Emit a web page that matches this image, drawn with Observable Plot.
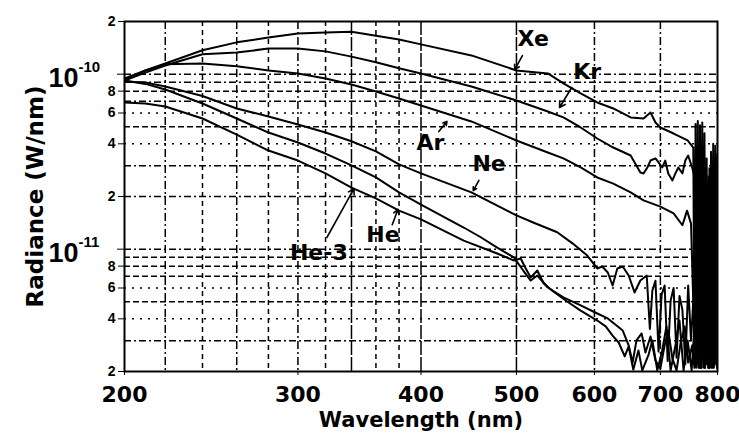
<!DOCTYPE html>
<html>
<head>
<meta charset="utf-8">
<script src="https://cdn.jsdelivr.net/npm/d3@7"></script>
<script src="https://cdn.jsdelivr.net/npm/@observablehq/plot@0.6"></script>
<style>
  body { margin: 0; background: #fff; }
</style>
</head>
<body>
<div id="chart"></div>
<script>
// Spectral radiance of noble-gas lamps, [wavelength (nm), radiance (W/nm)]
const xe = [[200,9.20e-11],[210,1.05e-10],[220,1.15e-10],[240,1.37e-10],[260,1.52e-10],[280,1.62e-10],[300,1.71e-10],[320,1.73e-10],[340,1.75e-10],[360,1.66e-10],[380,1.58e-10],[400,1.48e-10],[450,1.28e-10],[500,1.05e-10],[538,1.01e-10],[558,8.85e-11],[581,7.76e-11],[604,6.89e-11],[627,6.37e-11],[653,5.66e-11],[673,5.58e-11],[684,6.04e-11],[692,5.30e-11],[700,4.96e-11],[722,4.58e-11],[746,4.18e-11],[756,3.81e-11],
  [758,2.4e-12],[760,5.2e-11],[762,2.2e-12],[764,5.4e-11],[766,2.6e-12],[768,5.1e-11],[770,2.1e-12],[772,5.3e-11],[774,3.0e-12],[776,4.6e-11],[778,2.2e-12],[780,3.3e-11],[782,2.5e-12],[784,2.6e-11],[786,2.1e-12],[788,3.6e-11],[790,2.3e-12],[792,4.0e-11],[794,2.2e-12],[796,3.9e-11],[798,2.4e-12],[800,3.5e-11]];

const kr = [[200,9.20e-11],[210,1.02e-10],[220,1.12e-10],[240,1.30e-10],[260,1.33e-10],[280,1.40e-10],[300,1.40e-10],[320,1.35e-10],[340,1.26e-10],[360,1.17e-10],[380,1.08e-10],[400,1.01e-10],[450,8.50e-11],[500,7.07e-11],[538,6.12e-11],[558,5.66e-11],[581,4.96e-11],[604,4.29e-11],[627,3.81e-11],[653,3.43e-11],[660,3.09e-11],[668,2.74e-11],[673,2.71e-11],[679,2.93e-11],[684,3.21e-11],[692,3.30e-11],[697,3.13e-11],[703,2.93e-11],[708,3.21e-11],[713,2.71e-11],[720,2.47e-11],[725,2.71e-11],[730,2.93e-11],[737,2.71e-11],[742,3.21e-11],[747,3.43e-11],[754,2.93e-11],[760,2.47e-11],
  [763,2.2e-12],[765,3.0e-11],[767,2.3e-12],[769,2.8e-11],[771,2.1e-12],[773,3.2e-11],[775,2.5e-12],[777,2.6e-11],[779,2.2e-12],[781,2.4e-11],[783,2.1e-12],[785,2.9e-11],[787,2.4e-12],[789,2.7e-11],[791,2.2e-12],[793,3.1e-11],[795,2.3e-12],[797,2.5e-11],[799,2.1e-12]];

const ar = [[200,9.45e-11],[210,1.05e-10],[220,1.14e-10],[240,1.15e-10],[260,1.11e-10],[280,1.05e-10],[300,1.01e-10],[320,9.45e-11],[340,8.73e-11],[360,7.96e-11],[380,7.26e-11],[400,6.62e-11],[450,5.37e-11],[500,4.18e-11],[538,3.57e-11],[558,3.30e-11],[581,2.93e-11],[604,2.57e-11],[627,2.37e-11],[653,2.11e-11],[673,1.90e-11],[700,1.75e-11],[722,1.60e-11],[737,1.37e-11],[745,1.66e-11],[752,1.40e-11],
  [759,2.2e-12],[762,1.5e-11],[765,2.1e-12],[768,1.7e-11],[771,2.4e-12],[774,1.4e-11],[777,2.1e-12],[780,1.6e-11],[783,2.3e-12],[786,1.3e-11],[789,2.1e-12],[792,1.5e-11],[795,2.2e-12],[798,1.2e-11]];

const ne = [[200,9.08e-11],[210,8.96e-11],[220,8.50e-11],[240,7.50e-11],[260,6.37e-11],[280,5.73e-11],[300,5.16e-11],[320,4.64e-11],[340,4.14e-11],[360,3.62e-11],[380,3.05e-11],[400,2.71e-11],[450,2.11e-11],[500,1.56e-11],[520,1.42e-11],[550,1.25e-11],[570,1.08e-11],[590,9.20e-12],[604,7.76e-12],[611,7.96e-12],[619,7.36e-12],[626,6.20e-12],[633,7.76e-12],[641,7.96e-12],[650,7.07e-12],[659,5.66e-12],[668,6.62e-12],[678,7.07e-12],[683,3.5e-12],[687,5.81e-12],[692,6.6e-12],[697,2.6e-12],[702,5.5e-12],[707,6.20e-12],[712,2.3e-12],[717,5.09e-12],[722,6.0e-12],[727,2.4e-12],[732,5.4e-12],[737,4.5e-12],[742,2.2e-12],[747,6.20e-12],[752,3.0e-12],[756,5.09e-12],
  [760,2.3e-12],[764,6.5e-12],[768,2.1e-12],[772,7.0e-12],[776,2.2e-12],[780,6.0e-12],[784,2.1e-12],[788,5.5e-12],[792,2.2e-12],[796,6.2e-12],[800,2.4e-12]];

const he = [[200,9.20e-11],[210,8.80e-11],[220,8.17e-11],[240,6.80e-11],[260,5.58e-11],[280,4.64e-11],[300,4.07e-11],[320,3.52e-11],[340,3.01e-11],[360,2.57e-11],[380,2.11e-11],[400,1.80e-11],[442,1.33e-11],[460,1.17e-11],[478,1.02e-11],[497,8.97e-12],[508,7.55e-12],[517,6.62e-12],[525,7.07e-12],[538,6.04e-12],[558,5.30e-12],[581,4.77e-12],[604,4.29e-12],[619,4.02e-12],[630,3.71e-12],[641,3.43e-12],[650,2.82e-12],[656,2.25e-12],[662,3.01e-12],[670,3.30e-12],[676,2.57e-12],[684,3.17e-12],[692,2.31e-12],[700,2.08e-12],[707,2.82e-12],[713,3.43e-12],[720,2.37e-12],[727,2.03e-12],[734,2.93e-12],[741,3.62e-12],[747,2.25e-12],[754,2.82e-12],
  [758,2.1e-12],[762,3.6e-12],[767,2.1e-12],[771,3.2e-12],[775,2.1e-12],[779,3.8e-12],[783,2.1e-12],[787,3.0e-12],[791,2.1e-12],[795,3.4e-12],[799,2.1e-12]];

const he3 = [[200,6.89e-11],[210,6.80e-11],[220,6.54e-11],[240,5.58e-11],[260,4.52e-11],[280,3.66e-11],[300,3.21e-11],[320,2.71e-11],[340,2.25e-11],[360,1.95e-11],[380,1.66e-11],[400,1.48e-11],[442,1.12e-11],[478,9.45e-12],[497,8.62e-12],[505,8.85e-12],[511,7.76e-12],[517,6.89e-12],[525,7.55e-12],[533,6.37e-12],[545,5.73e-12],[561,5.09e-12],[581,4.46e-12],[604,3.91e-12],[616,3.62e-12],[626,3.21e-12],[635,2.93e-12],[644,2.44e-12],[650,2.78e-12],[657,2.05e-12],[665,2.64e-12],[671,2.03e-12],[681,2.50e-12],[687,3.01e-12],[695,2.03e-12],[703,2.64e-12],[710,3.62e-12],[717,2.03e-12],[725,2.82e-12],[732,3.91e-12],[739,2.03e-12],[746,3.01e-12],[753,2.03e-12],
  [757,3.2e-12],[761,2.1e-12],[765,3.4e-12],[769,2.1e-12],[773,2.9e-12],[777,2.1e-12],[781,3.5e-12],[785,2.1e-12],[789,3.1e-12],[793,2.1e-12],[797,2.8e-12]];

// Curve labels and their pointers
const labelText = ["Xe", "Kr", "Ar", "Ne", "He", "He-3"];
const labelWave = [520, 590, 409, 469, 366, 315];
const labelRad  = [1.60e-10, 1.036e-10, 4.02e-11, 3.05e-11, 1.20e-11, 9.57e-12];
const pointerFromWave = [507, 569, 417, 458, 374, 321];
const pointerFromRad  = [1.278e-10, 8.39e-11, 4.70e-11, 2.47e-11, 1.38e-11, 1.166e-11];
const pointerToWave   = [498, 553, 425, 452, 379, 342];
const pointerToRad    = [1.063e-10, 6.45e-11, 5.37e-11, 2.16e-11, 1.69e-11, 2.22e-11];

// Axis ticks
const xTicks = [200, 300, 400, 500, 600, 700, 800];
const yTickLabels = [2e-10, 8e-11, 6e-11, 4e-11, 2e-11, 8e-12, 6e-12, 4e-12, 2e-12];
const decades = [1e-10, 1e-11];

// Grid lines, grouped by dash style
const vGridSolid = [340, 400, 500];
const vGridDashDot = [220, 260, 300, 600, 700];
const vGridDashed = [240, 280, 320, 360, 380];
const hGridDashed = [8e-11, 5e-11, 9e-12, 8e-12, 7e-12, 5e-12];
const hGridDashDot = [1e-10, 9e-11, 7e-11, 3e-11, 2e-11, 1e-11, 3e-12];
const hGridDotted = [6e-11, 4e-11, 6e-12, 4e-12];

const series = [["Xe", xe], ["Kr", kr], ["Ar", ar], ["Ne", ne], ["He", he], ["He-3", he3]];
const rows = series.flatMap(([gas, pts]) => pts.map(([w, r]) => ({gas, w, r})));

const labels = labelText.map((t, i) => ({t, w: labelWave[i], r: labelRad[i]}));
const pointers = labelText.map((t, i) => ({
  w1: pointerFromWave[i], r1: pointerFromRad[i], w2: pointerToWave[i], r2: pointerToRad[i]
}));

// leading digit of a tick value: 8e-11 -> "8"
const mantissa = v => String(Math.round(v / 10 ** Math.floor(Math.log10(v) + 1e-9)));

const grid = {stroke: "#000", strokeWidth: 1.5};

const chart = Plot.plot({
  width: 739,
  height: 439,
  marginLeft: 124,
  marginRight: 22,
  marginTop: 21,
  marginBottom: 68,
  style: {fontFamily: "DejaVu Sans", fontWeight: "bold", background: "#fff", color: "#000", overflow: "visible"},
  x: {type: "log", domain: [200, 800]},
  y: {type: "log", domain: [2e-12, 2e-10]},
  marks: [
    Plot.ruleX(vGridSolid, {...grid, strokeDasharray: "14,2"}),
    Plot.ruleX(vGridDashDot, {...grid, strokeDasharray: "8,3,2,3"}),
    Plot.ruleX(vGridDashed, {...grid, strokeDasharray: "5,4"}),
    Plot.ruleY(hGridDashed, {...grid, strokeDasharray: "6,3"}),
    Plot.ruleY(hGridDashDot, {...grid, strokeDasharray: "7,3,2,3"}),
    Plot.ruleY(hGridDotted, {...grid, strokeDasharray: "2,6"}),
    Plot.frame({stroke: "#000", strokeWidth: 2}),
    Plot.line(rows, {x: "w", y: "r", z: "gas", stroke: "#000", strokeWidth: 2, strokeLinejoin: "round", clip: true}),
    Plot.arrow(pointers, {x1: "w1", y1: "r1", x2: "w2", y2: "r2", stroke: "#000", strokeWidth: 1.6, headLength: 6}),
    Plot.text(labels, {x: "w", y: "r", text: "t", fontSize: 22, fontWeight: "bold", fill: "#000"}),
    Plot.axisX(xTicks, {tickSize: 4, tickPadding: 11, fontSize: 22, tickFormat: d => String(d), label: null}),
    Plot.axisY(yTickLabels, {tickSize: 6, tickFormat: () => "", label: null}),
    Plot.axisY(decades, {tickSize: 7, tickFormat: () => "", label: null}),
    Plot.text(yTickLabels, {y: d => d, frameAnchor: "left", text: mantissa, textAnchor: "end", dx: -9, fontSize: 14, fontFamily: "Liberation Sans"}),
    Plot.text(decades, {y: d => d, frameAnchor: "left", text: () => "10", textAnchor: "end", dx: -46, dy: 4, fontSize: 27, fontFamily: "Liberation Sans"}),
    Plot.text(decades, {y: d => d, frameAnchor: "left", text: d => String(Math.round(Math.log10(d))), textAnchor: "start", dx: -46, dy: -7, fontSize: 15, fontFamily: "Liberation Sans"}),
    Plot.text(["Wavelength (nm)"], {text: d => d, frameAnchor: "bottom", textAnchor: "middle", lineAnchor: "top", dy: 41, fontSize: 21}),
    Plot.text(["Radiance (W/nm)"], {text: d => d, frameAnchor: "left", textAnchor: "middle", rotate: -90, dx: -89, fontSize: 23})
  ]
});

document.getElementById("chart").appendChild(chart);
</script>
</body>
</html>
